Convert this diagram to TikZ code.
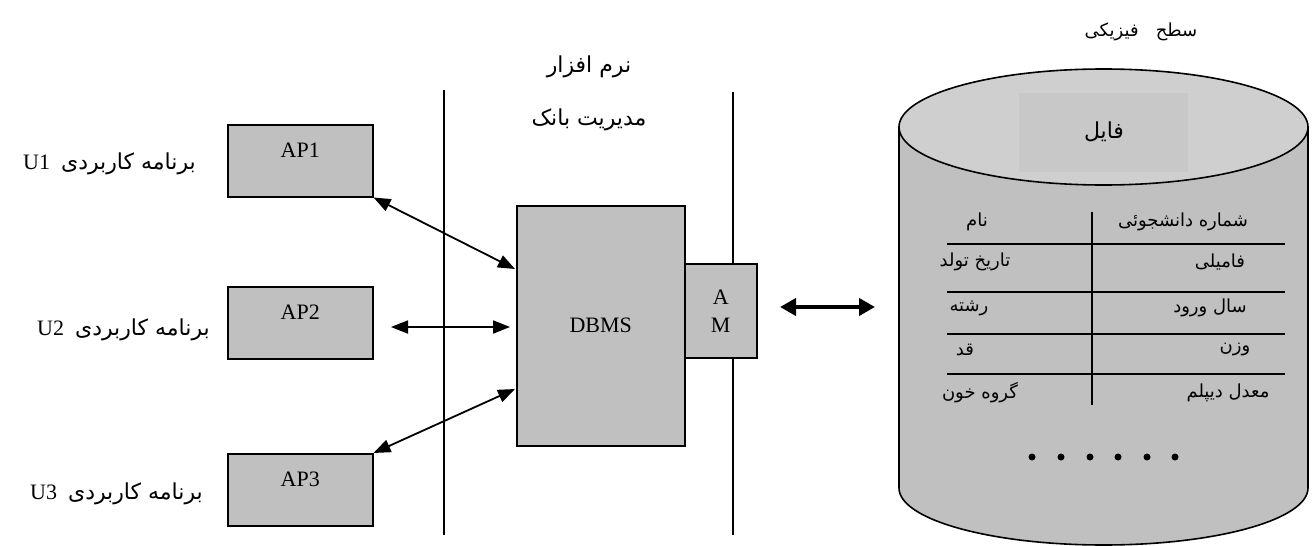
\documentclass[tikz,border=0pt]{standalone}
\usepackage{fontspec}
\setmainfont{Liberation Serif}
\newfontfamily\fa[Script=Arabic]{DejaVu Sans}
\TeXXeTstate=1
\usetikzlibrary{arrows.meta}
\newcommand\fatext[1]{{\fa\beginR #1\endR}}
\definecolor{boxgray}{HTML}{C0C0C0}
\definecolor{topgray}{HTML}{CFCFCF}
\definecolor{filegray}{HTML}{C8C8C8}
\begin{document}
\begin{tikzpicture}[x=1pt,y=-1pt,
  latin/.style={font=\fontsize{22}{30}\selectfont},
  persian/.style={font=\fontsize{18}{22}\fa},
  heading/.style={font=\fontsize{22}{26}\fa},
  userlabel/.style={font=\fontsize{22}{30}\selectfont, anchor=east, inner sep=0pt},
  apbox/.style={draw, fill=boxgray, line width=1.5pt, anchor=north west,
    minimum width=145pt, minimum height=72pt, inner sep=0pt},
  divider/.style={line width=1.6pt},
  link/.style={line width=1.8pt, {Triangle[length=17pt,width=13pt]}-{Triangle[length=17pt,width=13pt]}},
  biglink/.style={line width=3.8pt, {Triangle[length=16pt,width=17pt]}-{Triangle[length=16pt,width=17pt]}},
  rule/.style={line width=1.8pt},
  field/.style={persian, inner sep=0pt},
  dot/.style={circle, fill=black, inner sep=0pt, minimum size=7pt}
]
\useasboundingbox (0,0) rectangle (1315,546);

% layer separators
\coordinate (s1t) at (444,90);  \coordinate (s1b) at (444,535);
\coordinate (s2t) at (733,92);  \coordinate (s2b) at (733,535);
\draw[divider] (s1t) -- (s1b);
\draw[divider] (s2t) -- (s2b);

% application programs
\node[apbox, label={[latin, anchor=center, yshift=-26pt]north:AP1}] (ap1) at (227,124) {};
\node[apbox, label={[latin, anchor=center, yshift=-26pt]north:AP2}] (ap2) at (227,286) {};
\node[apbox, label={[latin, anchor=center, yshift=-26pt]north:AP3}] (ap3) at (227,453) {};

\node[userlabel] (u1) at (196,164) {U1\ \ \fatext{\fontsize{22}{26}\selectfont برنامه کاربردی}};
\node[userlabel] (u2) at (210,330) {U2\ \ \fatext{\fontsize{22}{26}\selectfont برنامه کاربردی}};
\node[userlabel] (u3) at (203,494) {U3\ \ \fatext{\fontsize{22}{26}\selectfont برنامه کاربردی}};

% DBMS and access method
\node[draw, fill=boxgray, line width=1.5pt, anchor=north west, minimum width=168pt,
  minimum height=240pt, inner sep=0pt, latin] (dbms) at (516,205) {DBMS};
\node[draw, fill=boxgray, line width=1.5pt, anchor=north west, minimum width=72pt,
  minimum height=94pt, inner sep=0pt, latin, align=center] (am) at (684,263) {A\\[-2pt]M};

\node[heading] (t1) at (589,67) {\fatext{نرم افزار}};
\node[heading] (t2) at (589,120) {\fatext{مدیریت بانک}};

% connectors
\coordinate (d1) at (515,269);
\coordinate (d3) at (515,389);
\coordinate (a2l) at (391,327);
\coordinate (a2r) at (510,327);
\coordinate (m1) at (780,307);
\coordinate (m2) at (875,307);
\draw[link] (ap1.south east) -- (d1);
\draw[link] (a2l) -- (a2r);
\draw[link] (ap3.north east) -- (d3);
\draw[biglink] (m1) -- (m2);

% physical storage cylinder
\path[draw, fill=boxgray, line width=1.6pt]
  (899,127) -- (899,488) arc[start angle=180, end angle=360, x radius=204.5, y radius=-57]
  -- (1308,127) -- cycle;
\draw[fill=topgray, line width=1.6pt] (1103.5,127) ellipse[x radius=204.5, y radius=58];
\node[fill=filegray, anchor=north west, minimum width=169pt, minimum height=79pt,
  inner sep=0pt] (file) at (1019,93) {};
\node[heading] (filetxt) at (1104,132) {\fatext{فایل}};
\node[persian] (phys) at (1141,32) {\fatext{سطح\ \ \ فیزیکی}};

% record layout
\coordinate (ct) at (1092,212); \coordinate (cb) at (1092,405);
\draw[rule] (ct) -- (cb);
\foreach \yy [count=\i] in {244,292,334,374} {
  \coordinate (hl\i) at (947,\yy); \coordinate (hr\i) at (1285,\yy);
  \draw[rule] (hl\i) -- (hr\i);
}
\node[field] (f1l) at (977,222) {\fatext{نام}};
\node[field] (f1r) at (1183,222) {\fatext{شماره دانشجوئی}};
\node[field] (f2l) at (975,262) {\fatext{تاریخ تولد}};
\node[field] (f2r) at (1220,262) {\fatext{فامیلی}};
\node[field] (f3l) at (969,308) {\fatext{رشته}};
\node[field] (f3r) at (1210,308) {\fatext{سال ورود}};
\node[field] (f4l) at (965,350) {\fatext{قد}};
\node[field] (f4r) at (1235,350) {\fatext{وزن}};
\node[field] (f5l) at (980,393) {\fatext{گروه خون}};
\node[field] (f5r) at (1228,393) {\fatext{معدل دیپلم}};

\foreach \xx [count=\i] in {1032,1061,1090,1118,1147,1175}
  \node[dot] (dot\i) at (\xx,457) {};
\end{tikzpicture}
\end{document}
